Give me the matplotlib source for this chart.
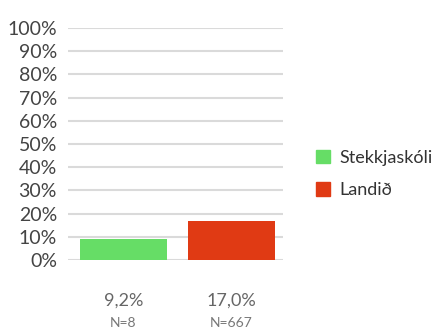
import matplotlib.pyplot as plt
from matplotlib.patches import Patch

groups = ["Stekkjaskóli", "Landið"]
values = [9.2, 17.0]
counts = [8, 667]
colors = ["#66dd66", "#e03a14"]
yticks = list(range(0, 101, 10))

plt.rcParams['font.family'] = ['Lato', 'DejaVu Sans']

fig = plt.figure(figsize=(4.48, 3.32), dpi=100)
ax = fig.add_axes([0.152, 0.217, 0.48, 0.699])

x = list(range(len(values)))
ax.bar(x, values, width=0.805, color=colors, zorder=3)

ax.set_ylim(0, 100)
ax.set_xlim(-0.51, 1.48)
ax.set_yticks(yticks)
ax.set_yticklabels([f"{t}%" for t in yticks], fontsize=14, color="#444444")
ax.set_xticks([])
ax.yaxis.grid(True, color="#dadada", linewidth=1.5, zorder=0)
ax.tick_params(axis="y", length=0, pad=8)
for s in ax.spines.values():
    s.set_visible(False)

# value and sample size under each bar
for xi, v, n in zip(x, values, counts):
    ax.text(xi, -17.5, f"{v:.1f}%".replace(".", ","), ha="center", va="center",
            fontsize=13, color="#666666")
    ax.text(xi, -27, f"N={n}", ha="center", va="center", fontsize=10, color="#777777")

handles = [Patch(color=c) for c in colors]
fig.legend(handles, groups, loc="center left", bbox_to_anchor=(0.705, 0.476),
           frameon=False, fontsize=13, handlelength=0.8, handleheight=0.8,
           handletextpad=0.5, labelspacing=0.9, borderpad=0, borderaxespad=0,
           labelcolor="#333333")

fig.savefig("out.png", dpi=100)
